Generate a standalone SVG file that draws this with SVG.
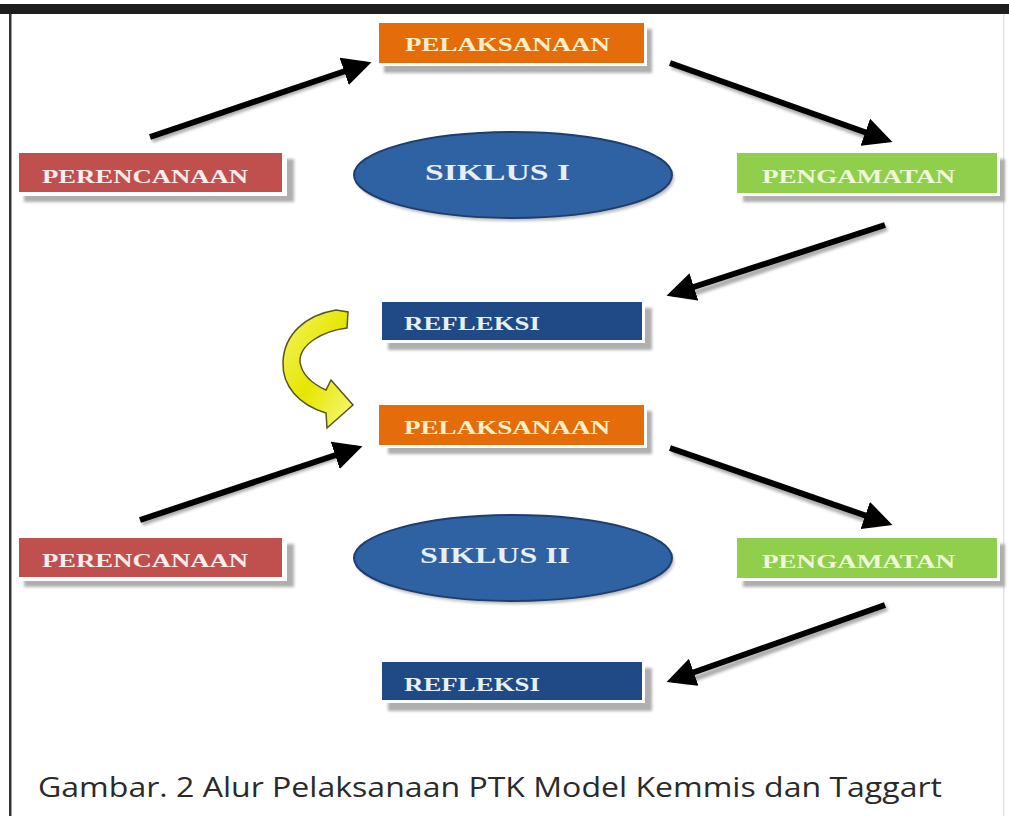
<svg xmlns="http://www.w3.org/2000/svg" width="1009" height="816" viewBox="0 0 1009 816">
<defs>
<style>
.shadow{fill:#9a9a9a;opacity:0.8}
.frame{fill:#ffffff}
.lbl{font-family:"Liberation Serif","Times New Roman",serif;font-weight:bold;font-size:19px}
.ell{font-family:"Liberation Serif","Times New Roman",serif;font-weight:bold;font-size:24px;fill:#e8eef6}
.arrow{stroke:#000;stroke-width:6;fill:none;marker-end:url(#ah)}
.arrowsh{stroke:#777;stroke-width:6;fill:none;opacity:0.6}
</style>
<filter id="blur" x="-20%" y="-20%" width="140%" height="140%"><feGaussianBlur stdDeviation="1.5"/></filter>
<marker id="ah" viewBox="0 0 10 10" refX="8" refY="5" markerWidth="4.8" markerHeight="4.8" orient="auto" markerUnits="strokeWidth">
<path d="M0,0 L10,5 L0,10 Z" fill="#000"/>
</marker>
<linearGradient id="yg" x1="0" y1="0" x2="1" y2="1">
<stop offset="0" stop-color="#f4f46a"/>
<stop offset="0.5" stop-color="#e6e600"/>
<stop offset="1" stop-color="#f8f880"/>
</linearGradient>
</defs>
<rect x="0" y="0" width="1009" height="816" fill="#ffffff"/>
<rect x="0" y="4" width="1009" height="10" fill="#1e1e1e"/>
<rect x="9" y="14" width="2.5" height="802" fill="#333"/>
<rect x="1003" y="14" width="1.5" height="802" fill="#e4e4e4"/>

<g id="connectors">
<line class="arrowsh" x1="152" y1="140" x2="355" y2="70" filter="url(#blur)"/>
<line class="arrow" x1="150" y1="137" x2="366" y2="64"/>
<line class="arrowsh" x1="672" y1="66" x2="878" y2="140" filter="url(#blur)"/>
<line class="arrow" x1="670" y1="63" x2="887" y2="140"/>
<line class="arrowsh" x1="887" y1="228" x2="685" y2="296" filter="url(#blur)"/>
<line class="arrow" x1="885" y1="225" x2="672" y2="294"/>
<path d="M336,310 L348,312 L347,328 C322,331 299,345 300,362 C302,376 315,385 326,390 L331,380 L353,405 L327,428 L326,413 C299,405 282,386 283,362 C284,334 306,315 336,310 Z" fill="url(#yg)" stroke="#555520" stroke-width="1.5"/>
<line class="arrowsh" x1="142" y1="523" x2="345" y2="454" filter="url(#blur)"/>
<line class="arrow" x1="140" y1="520" x2="357" y2="448"/>
<line class="arrowsh" x1="672" y1="451" x2="878" y2="524" filter="url(#blur)"/>
<line class="arrow" x1="670" y1="448" x2="887" y2="523"/>
<line class="arrowsh" x1="887" y1="608" x2="685" y2="682" filter="url(#blur)"/>
<line class="arrow" x1="885" y1="605" x2="672" y2="680"/>
</g>

<g id="pelaksanaan1">
<rect class="shadow" x="384" y="29" width="268" height="44" filter="url(#blur)"/>
<rect class="frame" x="375" y="20" width="272" height="46"/>
<rect x="379" y="23" width="265" height="40" fill="#e46c0a"/>
<text class="lbl" x="405" y="51" fill="#fdf0c8" textLength="205" lengthAdjust="spacingAndGlyphs">PELAKSANAAN</text>
</g>
<g id="perencanaan1">
<rect class="shadow" x="24" y="159" width="270" height="43" filter="url(#blur)"/>
<rect class="frame" x="15" y="150" width="272" height="46"/>
<rect x="19" y="153" width="263" height="39" fill="#c0504d"/>
<text class="lbl" x="42" y="183" fill="#f8ecec" textLength="206" lengthAdjust="spacingAndGlyphs">PERENCANAAN</text>
</g>
<g id="siklus1">
<ellipse cx="515" cy="178" rx="159" ry="43" fill="#8a8a8a" opacity="0.6" filter="url(#blur)"/>
<ellipse cx="513" cy="175" rx="159" ry="43" fill="#2f62a3" stroke="#1d3e6e" stroke-width="2"/>
<text class="ell" x="425" y="180" textLength="145" lengthAdjust="spacingAndGlyphs">SIKLUS I</text>
</g>
<g id="pengamatan1">
<rect class="shadow" x="743" y="159" width="262" height="43" filter="url(#blur)"/>
<rect class="frame" x="734" y="150" width="266" height="46"/>
<rect x="737" y="153" width="260" height="40" fill="#8fcf4c"/>
<text class="lbl" x="762" y="183" fill="#eef7d8" textLength="193" lengthAdjust="spacingAndGlyphs">PENGAMATAN</text>
</g>
<g id="refleksi1">
<rect class="shadow" x="388" y="308" width="264" height="42" filter="url(#blur)"/>
<rect class="frame" x="379" y="299" width="266" height="44"/>
<rect x="382" y="302" width="260" height="38" fill="#1f4a85"/>
<text class="lbl" x="404" y="330" fill="#eaf0f8" textLength="136" lengthAdjust="spacingAndGlyphs">REFLEKSI</text>
</g>
<g id="pelaksanaan2">
<rect class="shadow" x="388" y="411" width="264" height="43" filter="url(#blur)"/>
<rect class="frame" x="375" y="402" width="272" height="46"/>
<rect x="379" y="405" width="265" height="40" fill="#e46c0a"/>
<text class="lbl" x="404" y="434" fill="#fdf0c8" textLength="206" lengthAdjust="spacingAndGlyphs">PELAKSANAAN</text>
</g>
<g id="perencanaan2">
<rect class="shadow" x="24" y="544" width="270" height="43" filter="url(#blur)"/>
<rect class="frame" x="15" y="535" width="272" height="46"/>
<rect x="19" y="538" width="263" height="39" fill="#c0504d"/>
<text class="lbl" x="42" y="567" fill="#f8ecec" textLength="206" lengthAdjust="spacingAndGlyphs">PERENCANAAN</text>
</g>
<g id="siklus2">
<ellipse cx="515" cy="561" rx="159" ry="43" fill="#8a8a8a" opacity="0.6" filter="url(#blur)"/>
<ellipse cx="513" cy="558" rx="159" ry="43" fill="#2f62a3" stroke="#1d3e6e" stroke-width="2"/>
<text class="ell" x="420" y="563" textLength="150" lengthAdjust="spacingAndGlyphs">SIKLUS II</text>
</g>
<g id="pengamatan2">
<rect class="shadow" x="743" y="544" width="262" height="43" filter="url(#blur)"/>
<rect class="frame" x="734" y="535" width="266" height="46"/>
<rect x="737" y="538" width="260" height="40" fill="#8fcf4c"/>
<text class="lbl" x="762" y="568" fill="#eef7d8" textLength="193" lengthAdjust="spacingAndGlyphs">PENGAMATAN</text>
</g>
<g id="refleksi2">
<rect class="shadow" x="388" y="668" width="264" height="43" filter="url(#blur)"/>
<rect class="frame" x="379" y="659" width="266" height="44"/>
<rect x="382" y="662" width="260" height="38" fill="#1f4a85"/>
<text class="lbl" x="404" y="691" fill="#eaf0f8" textLength="136" lengthAdjust="spacingAndGlyphs">REFLEKSI</text>
</g>

<text id="caption" x="38" y="797" font-family="'Open Sans','Noto Sans',sans-serif" font-size="27" fill="#2a2a2a" textLength="904" lengthAdjust="spacingAndGlyphs">Gambar. 2  Alur Pelaksanaan PTK Model Kemmis dan Taggart</text>
</svg>
